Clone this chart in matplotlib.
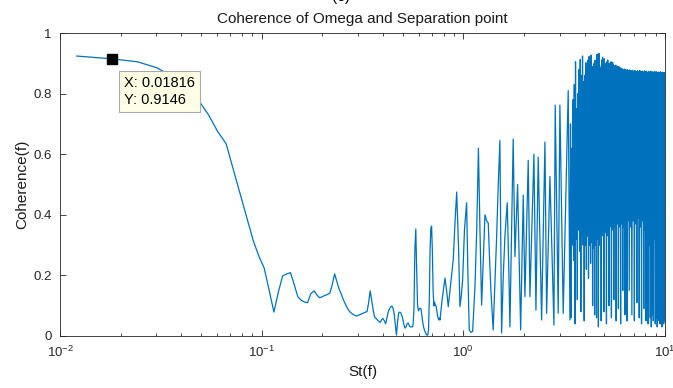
import numpy as np
import matplotlib
matplotlib.use("Agg")
import matplotlib.pyplot as plt
from matplotlib.ticker import LogLocator, NullFormatter

plt.rcParams['font.family'] = ['Liberation Sans', 'DejaVu Sans']
plt.rcParams['mathtext.default'] = 'regular'

# data tip shown on the chart
tip_x = 0.01816
tip_y = 0.9146

# low / mid frequency part of the coherence curve
st_low = [0.0121, tip_x, 0.0242, 0.0303, 0.0363, 0.0424, 0.0484, 0.0545, 0.0605, 0.0666,
          0.0726, 0.0787, 0.0847, 0.0908, 0.0968, 0.1029, 0.109, 0.115, 0.121, 0.127,
          0.133, 0.139, 0.145, 0.151, 0.157, 0.163, 0.169, 0.175, 0.182, 0.188,
          0.194, 0.200, 0.206, 0.212, 0.218, 0.224, 0.230, 0.236, 0.242, 0.248,
          0.254, 0.260, 0.266, 0.272, 0.278, 0.284, 0.290, 0.296, 0.303, 0.309,
          0.315, 0.321, 0.327, 0.333, 0.339, 0.345, 0.351, 0.357, 0.363, 0.369,
          0.375, 0.381, 0.387, 0.393, 0.399, 0.406, 0.412, 0.418, 0.424, 0.430,
          0.436, 0.442, 0.448, 0.454, 0.460, 0.466, 0.472, 0.478, 0.484, 0.490,
          0.496, 0.502, 0.508, 0.514, 0.520, 0.526, 0.532, 0.538, 0.545, 0.551,
          0.557, 0.563, 0.569, 0.575, 0.581, 0.587, 0.593, 0.599, 0.605, 0.611,
          0.617, 0.623, 0.629, 0.635, 0.641, 0.647, 0.654, 0.660, 0.666, 0.672,
          0.678, 0.684, 0.690, 0.696, 0.702, 0.708, 0.714, 0.720, 0.726, 0.732,
          0.738, 0.744, 0.750, 0.756, 0.762, 0.766, 0.785, 0.811, 0.826, 0.842,
          0.868, 0.891, 0.910, 0.927, 0.946, 0.962, 0.976, 0.992, 1.013, 1.038,
          1.054, 1.070, 1.090, 1.112, 1.142, 1.165, 1.188, 1.209, 1.232, 1.255,
          1.280, 1.305, 1.329, 1.350, 1.370, 1.406, 1.463, 1.490, 1.518, 1.548,
          1.578, 1.608, 1.651, 1.683, 1.702, 1.767, 1.803, 1.858, 1.924, 1.982,
          2.020, 2.098, 2.139, 2.239, 2.291, 2.351, 2.444, 2.539, 2.588, 2.688,
          2.813, 2.855, 2.954, 3.012, 3.128, 3.312, 3.378]
coh_low = [0.924, tip_y, 0.905, 0.885, 0.855, 0.82, 0.78, 0.73, 0.675, 0.635,
           0.546, 0.463, 0.386, 0.315, 0.264, 0.224, 0.15, 0.079, 0.145, 0.198,
           0.205, 0.209, 0.17, 0.13, 0.118, 0.112, 0.11, 0.139, 0.149, 0.135,
           0.126, 0.13, 0.134, 0.137, 0.142, 0.17, 0.205, 0.18, 0.155, 0.139,
           0.12, 0.105, 0.092, 0.082, 0.076, 0.071, 0.068, 0.066, 0.069, 0.071,
           0.074, 0.076, 0.079, 0.08, 0.109, 0.149, 0.119, 0.086, 0.063, 0.058,
           0.053, 0.048, 0.045, 0.053, 0.058, 0.05, 0.04, 0.06, 0.079, 0.089,
           0.096, 0.099, 0.092, 0.073, 0.036, 0.003, 0.046, 0.076, 0.079, 0.076,
           0.066, 0.053, 0.036, 0.026, 0.03, 0.04, 0.043, 0.036, 0.03, 0.03,
           0.03, 0.033, 0.086, 0.284, 0.353, 0.218, 0.102, 0.083, 0.089, 0.092,
           0.089, 0.066, 0.046, 0.03, 0.02, 0.013, 0.007, 0.003, 0.003, 0.02,
           0.119, 0.284, 0.356, 0.363, 0.284, 0.152, 0.099, 0.112, 0.102, 0.099,
           0.086, 0.069, 0.059, 0.053, 0.059, 0.053, 0.12, 0.191, 0.15, 0.097,
           0.18, 0.251, 0.38, 0.475, 0.30, 0.097, 0.13, 0.185, 0.35, 0.44,
           0.20, 0.02, 0.012, 0.015, 0.163, 0.35, 0.62, 0.35, 0.102, 0.25,
           0.40, 0.38, 0.373, 0.25, 0.15, 0.02, 0.33, 0.50, 0.645, 0.01,
           0.20, 0.33, 0.44, 0.20, 0.03, 0.65, 0.262, 0.50, 0.02, 0.465,
           0.13, 0.58, 0.13, 0.60, 0.085, 0.59, 0.053, 0.64, 0.075, 0.526,
           0.036, 0.762, 0.075, 0.762, 0.075, 0.81, 0.053]

# high frequency part: peaks and dips of the fast oscillation
st_hi = [3.40, 3.45, 3.50, 3.55, 3.60, 3.65, 3.70, 3.75, 3.80, 3.85,
         3.90, 3.95, 4.00, 4.05, 4.10, 4.15, 4.20, 4.25, 4.30, 4.35,
         4.40, 4.45, 4.50, 4.55, 4.60, 4.65, 4.70, 4.75, 4.80, 4.85,
         4.90, 4.95, 5.00, 5.05, 5.10, 5.15, 5.20, 5.25, 5.30, 5.35,
         5.40, 5.45, 5.50, 5.55, 5.60, 5.65, 5.70, 5.75, 5.80, 5.85,
         5.90, 5.95, 6.00, 6.05, 6.10, 6.15, 6.20, 6.25, 6.30, 6.35,
         6.40, 6.45, 6.50,
         6.6, 6.7, 6.8, 6.9, 7.0, 7.1, 7.2, 7.3, 7.4, 7.5,
         7.6, 7.7, 7.8, 7.9, 8.0, 8.1, 8.2, 8.3, 8.4, 8.5,
         8.6, 8.7, 8.8, 8.9, 9.0, 9.1, 9.2, 9.3, 9.4, 9.5,
         9.6, 9.7, 9.8, 9.9, 10.0]
coh_hi = [0.70, 0.62, 0.78, 0.83, 0.905, 0.75, 0.80, 0.88, 0.913, 0.86,
          0.924, 0.84, 0.86, 0.902, 0.88, 0.91, 0.922, 0.87, 0.927, 0.89,
          0.85, 0.90, 0.91, 0.88, 0.93, 0.90, 0.933, 0.89, 0.88, 0.91,
          0.92, 0.89, 0.915, 0.90, 0.89, 0.905, 0.911, 0.89, 0.90, 0.895,
          0.905, 0.89, 0.903, 0.895, 0.89, 0.892, 0.894, 0.886, 0.89, 0.884,
          0.889, 0.883, 0.885, 0.882, 0.883, 0.879, 0.88, 0.878, 0.881, 0.877,
          0.878, 0.876, 0.879,
          0.876, 0.878, 0.875, 0.877, 0.874, 0.876, 0.873, 0.875, 0.872, 0.876,
          0.873, 0.874, 0.871, 0.875, 0.872, 0.874, 0.870, 0.873, 0.871, 0.874,
          0.870, 0.872, 0.869, 0.873, 0.870, 0.872, 0.868, 0.871, 0.869, 0.872,
          0.868, 0.870, 0.867, 0.870, 0.868]
st_lo = [3.425, 3.475, 3.525, 3.575, 3.625, 3.675, 3.725, 3.775, 3.825, 3.875,
         3.925, 3.975, 4.025, 4.075, 4.125, 4.175, 4.225, 4.275, 4.325, 4.375,
         4.425, 4.475, 4.525, 4.575, 4.625, 4.675, 4.725, 4.775, 4.825, 4.875,
         4.925, 4.975, 5.025, 5.075, 5.125, 5.175, 5.225, 5.275, 5.325, 5.375,
         5.425, 5.475, 5.525, 5.575, 5.625, 5.675, 5.725, 5.775, 5.825, 5.875,
         5.925, 5.975, 6.025, 6.075, 6.125, 6.175, 6.225, 6.275, 6.325, 6.375,
         6.425, 6.475,
         6.55, 6.65, 6.75, 6.85, 6.95, 7.05, 7.15, 7.25, 7.35, 7.45,
         7.55, 7.65, 7.75, 7.85, 7.95, 8.05, 8.15, 8.25, 8.35, 8.45,
         8.55, 8.65, 8.75, 8.85, 8.95, 9.05, 9.15, 9.25, 9.35, 9.45,
         9.55, 9.65, 9.75, 9.85, 9.95]
coh_lo = [0.06, 0.30, 0.25, 0.04, 0.32, 0.12, 0.35, 0.28, 0.08, 0.33,
          0.30, 0.05, 0.30, 0.22, 0.33, 0.19, 0.30, 0.24, 0.31, 0.10,
          0.29, 0.07, 0.30, 0.06, 0.32, 0.03, 0.30, 0.34, 0.05, 0.33,
          0.36, 0.08, 0.34, 0.37, 0.04, 0.35, 0.33, 0.10, 0.36, 0.38,
          0.06, 0.35, 0.37, 0.12, 0.38, 0.36, 0.05, 0.39, 0.37, 0.09,
          0.36, 0.38, 0.04, 0.37, 0.39, 0.15, 0.36, 0.38, 0.07, 0.37,
          0.39, 0.05,
          0.38, 0.15, 0.36, 0.07, 0.38, 0.05, 0.37, 0.11, 0.39, 0.06,
          0.36, 0.04, 0.38, 0.09, 0.35, 0.05, 0.08, 0.04, 0.30, 0.06,
          0.03, 0.07, 0.05, 0.32, 0.04, 0.06, 0.03, 0.08, 0.05, 0.04,
          0.28, 0.03, 0.06, 0.04, 0.05]

yticks = [0, 0.2, 0.4, 0.6, 0.8, 1]
ytick_labels = ['0', '0.2', '0.4', '0.6', '0.8', '1']

# put the pieces together in frequency order
st = np.concatenate([st_low, st_hi, st_lo])
coh = np.concatenate([coh_low, coh_hi, coh_lo])
order = np.argsort(st)
st = st[order]
coh = coh[order]

fig = plt.figure(figsize=(6.73, 3.88), dpi=100)
ax = fig.add_axes([60 / 673, 52 / 388, 605 / 673, 303 / 388])

ax.plot(st, coh, color='#0072BD', linewidth=0.9)

ax.set_xscale('log')
ax.set_xlim(0.01, 10)
ax.set_ylim(0, 1)
ax.set_yticks(yticks)
ax.set_yticklabels(ytick_labels)
ax.xaxis.set_major_locator(LogLocator(base=10, numticks=10))
ax.xaxis.set_minor_locator(LogLocator(base=10, subs=np.arange(2, 10), numticks=20))
ax.xaxis.set_minor_formatter(NullFormatter())

# matlab style box with inward ticks on all sides
for side in ['left', 'right', 'top', 'bottom']:
    ax.spines[side].set_color('#262626')
    ax.spines[side].set_linewidth(0.6)
ax.tick_params(which='both', direction='in', top=True, right=True,
               colors='#262626', labelsize=9.5, width=0.6)
ax.tick_params(which='major', length=4.5, pad=6)
ax.tick_params(which='minor', length=2.5)

ax.set_title('Coherence of Omega and Separation point', fontsize=11, pad=7, color='#1a1a1a')
ax.set_xlabel('St(f)', fontsize=11, labelpad=4, color='#1a1a1a')
ax.set_ylabel('Coherence(f)', fontsize=11, labelpad=3, color='#1a1a1a')

# panel letter, cut at the top edge like the original
fig.text(0.507, 0.997, '(c)', fontsize=11, ha='center', va='baseline')

# data tip
ax.plot([tip_x], [tip_y], marker='s', markersize=7, color='black', linestyle='none')
ax.annotate('X: %.5f\nY: %.4f' % (tip_x, tip_y), xy=(tip_x, tip_y),
            xytext=(12, -17), textcoords='offset pixels', ha='left', va='top',
            fontsize=10.5, linespacing=1.25,
            bbox=dict(boxstyle='square,pad=0.35', facecolor='#FFFFE6',
                      edgecolor='#A8A8A8', linewidth=0.8))

fig.savefig('out.png', dpi=100)
